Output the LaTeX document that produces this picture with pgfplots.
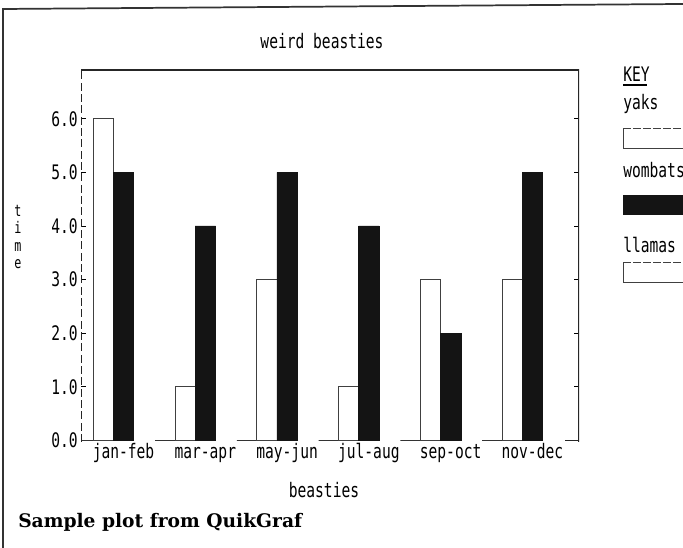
\documentclass[border=0pt]{standalone}
\usepackage{pgfplots}
\pgfplotsset{compat=1.18}
\usepackage{fontspec}
\newfontfamily\qf[FakeStretch=0.73]{DejaVu Sans Mono}
\newfontfamily\capf{DejaVu Serif}
\newcommand\qfont{\qf\fontsize{15}{12}\selectfont}
\begin{document}
\begin{tikzpicture}[x=0.75pt,y=0.75pt]
\path[use as bounding box] (0,0) rectangle (683,548);
% outer frame
\draw[line width=1.3pt, black!80] (3,0) -- (3,539) -- (683,544);
\begin{axis}[
  at={(60.75pt,79.5pt)}, anchor=south west,
  scale only axis, width=373.5pt, height=279pt,
  xmin=-0.52, xmax=5.57, ymin=-0.03, ymax=6.91,
  axis line style={draw=none},
  xtick={0,...,5},
  xticklabels={jan-feb,mar-apr,may-jun,jul-aug,sep-oct,nov-dec},
  xtick style={draw=none},
  ytick={0,...,6},
  yticklabels={0.0,1.0,2.0,3.0,4.0,5.0,6.0},
  tick align=inside, major tick length=3.75pt,
  ytick style={black, line width=0.6pt},
  ticklabel style={font=\qfont, text=black},
  yticklabel style={xshift=1pt},
  xticklabel style={yshift=0pt, text height=9pt, text depth=3pt},
  clip=true,
]
% llamas (all zero)
\addplot[ybar, bar width=0.25, bar shift=0pt, fill=white, draw=black!80, line width=0.8pt]
  coordinates {(-0.49,0) (0.51,0) (1.51,0) (2.51,0) (3.51,0) (4.51,0)};
% yaks
\addplot[ybar, bar width=0.25, bar shift=0pt, fill=white, draw=black!75, line width=0.6pt]
  coordinates {(-0.245,6) (0.755,1) (1.755,3) (2.755,1) (3.755,3) (4.755,3)};
% wombats
\addplot[ybar, bar width=0.25, bar shift=0pt, fill=black!92, draw=black!92]
  coordinates {(0,5) (1,4) (2,5) (3,4) (4,2) (5,5)};
\draw[line width=1pt, black!85] (rel axis cs:0,1) -- (rel axis cs:1,1) -- (rel axis cs:1,0);
\draw[line width=0.8pt, black!85, dash pattern=on 6pt off 2.5pt] (rel axis cs:0,0) -- (rel axis cs:0,1);
\draw[line width=1pt, black!85] (axis cs:5.4,0) -- (axis cs:5.57,0);
\end{axis}
% title and labels
\node[font=\qfont] at (322,507) {weird beasties};
\node[font=\qfont] at (324,58) {beasties};
\node[font=\qf\fontsize{12}{13}\selectfont, align=center, inner sep=0pt] at (18,311) {t\\i\\m\\e};
% key
\node[font=\qfont, anchor=base west, inner sep=0pt] (k) at (623,466) {KEY};
\draw[line width=0.8pt] (623,463) -- (647,463);
\node[font=\qfont, anchor=base west, inner sep=0pt] at (623,438) {yaks};
\draw[line width=0.6pt, black!75, fill=white] (683,400) -- (623,400) -- (623,420);
\draw[line width=0.6pt, black!75, dash pattern=on 6pt off 1.5pt] (623,420) -- (683,420);
\node[font=\qfont, anchor=base west, inner sep=0pt] at (623,370) {wombats};
\fill[black!92] (623,333) rectangle (683,353);
\node[font=\qfont, anchor=base west, inner sep=0pt] at (623,295) {llamas};
\draw[line width=0.6pt, black!75] (683,266) -- (623,266) -- (623,286);
\draw[line width=0.6pt, black!75, dash pattern=on 6pt off 1.5pt] (623,286) -- (683,286);
% caption
\node[font=\capf\bfseries\fontsize{14}{16}\selectfont, anchor=base west, inner sep=0pt] at (18,20) {Sample plot from QuikGraf};
\end{tikzpicture}
\end{document}
